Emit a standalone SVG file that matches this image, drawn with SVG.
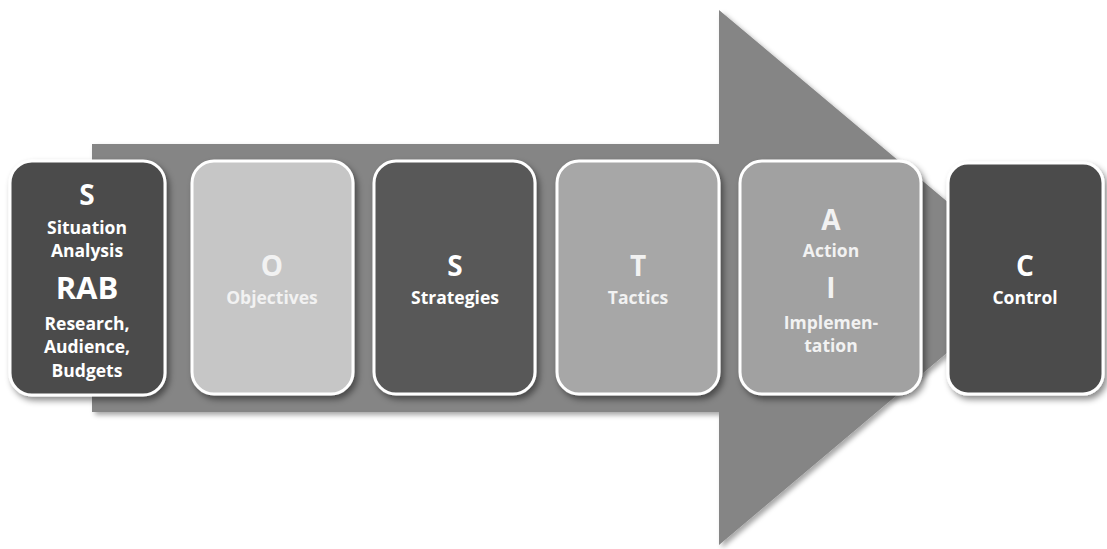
<svg xmlns="http://www.w3.org/2000/svg" width="1107" height="549" viewBox="0 0 1107 549">
  <defs>
    <filter id="sh" x="-10%" y="-10%" width="130%" height="130%">
      <feDropShadow dx="3" dy="4" stdDeviation="3" flood-color="#000" flood-opacity="0.45"/>
    </filter>
    <filter id="ash" x="-10%" y="-10%" width="130%" height="130%">
      <feDropShadow dx="3" dy="3" stdDeviation="2.5" flood-color="#000" flood-opacity="0.35"/>
    </filter>
    <style>
      .box { stroke: #ffffff; stroke-width: 3; filter: url(#sh); }
      .big { font-family: "Open Sans", "Noto Sans", sans-serif; font-weight: bold; font-size: 28px; fill: #ffffff; text-anchor: middle; }
      .sub { font-family: "Open Sans", "Noto Sans", sans-serif; font-weight: bold; font-size: 17.5px; fill: #ffffff; text-anchor: middle; }
      .lt { fill: #f2f2f2; }
    </style>
  </defs>
  <rect width="1107" height="549" fill="#ffffff"/>
  <g id="arrow" filter="url(#ash)">
    <polygon points="92,144 719,144 719,10 1037,277 719,545 719,412 92,412" fill="#858585"/>
  </g>
  <g id="connectors"></g>
  <g id="node-s">
    <rect class="box" x="10" y="161" width="155" height="234" rx="22" fill="#4b4b4b"/>
    <text class="big" x="87" y="205">S</text>
    <text class="sub" x="87" y="234">Situation</text>
    <text class="sub" x="87" y="257">Analysis</text>
    <text class="big" x="87" y="299" style="font-size:31px">RAB</text>
    <text class="sub" x="87" y="330">Research,</text>
    <text class="sub" x="87" y="353">Audience,</text>
    <text class="sub" x="87" y="377">Budgets</text>
  </g>
  <g id="node-o">
    <rect class="box" x="192" y="161" width="161" height="233" rx="22" fill="#c6c6c6"/>
    <text class="big lt" x="272" y="276">O</text>
    <text class="sub lt" x="272" y="304">Objectives</text>
  </g>
  <g id="node-s2">
    <rect class="box" x="374" y="161" width="161" height="233" rx="22" fill="#595959"/>
    <text class="big" x="455" y="276">S</text>
    <text class="sub" x="455" y="304">Strategies</text>
  </g>
  <g id="node-t">
    <rect class="box" x="557" y="161" width="162" height="233" rx="22" fill="#a7a7a7"/>
    <text class="big lt" x="638" y="276">T</text>
    <text class="sub lt" x="638" y="304">Tactics</text>
  </g>
  <g id="node-ai">
    <rect class="box" x="740" y="161" width="181" height="233" rx="22" fill="#a1a1a1"/>
    <text class="big lt" x="831" y="230">A</text>
    <text class="sub lt" x="831" y="257">Action</text>
    <text class="big lt" x="831" y="298">I</text>
    <text class="sub lt" x="831" y="329">Implemen-</text>
    <text class="sub lt" x="831" y="352">tation</text>
  </g>
  <g id="node-c">
    <rect class="box" x="948" y="163" width="155" height="231" rx="20" fill="#4b4b4b"/>
    <text class="big" x="1025" y="276">C</text>
    <text class="sub" x="1025" y="304">Control</text>
  </g>
</svg>
